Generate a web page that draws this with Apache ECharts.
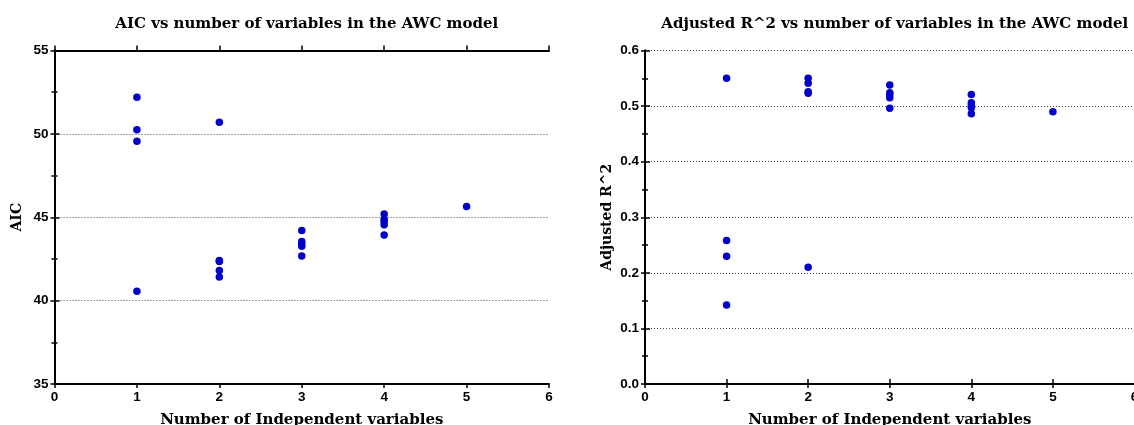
<!DOCTYPE html>
<html>
<head>
<meta charset="utf-8">
<script src="https://cdn.jsdelivr.net/npm/echarts@6/dist/echarts.min.js"></script>
<style>
  html, body { margin: 0; padding: 0; background: #fff; overflow: hidden; }
  #chart { width: 1134px; height: 425px; }
</style>
</head>
<body>
<div id="chart"></div>
<script>
// Number of independent variables in each candidate model
const varCounts = [1, 2, 3, 4, 5];

// AIC of each candidate model, grouped by number of variables
const aicValues = [
  [52.2, 50.24, 49.56, 40.56],
  [50.7, 42.4, 42.35, 41.8, 41.42],
  [44.2, 43.54, 43.4, 43.26, 42.68],
  [45.2, 44.9, 44.75, 44.55, 43.94],
  [45.64]
];

// Adjusted R^2 of each candidate model, grouped the same way
const r2Values = [
  [0.55, 0.258, 0.23, 0.142],
  [0.55, 0.541, 0.526, 0.523, 0.21],
  [0.538, 0.524, 0.521, 0.515, 0.496],
  [0.521, 0.506, 0.501, 0.497, 0.486],
  [0.49]
];

const aicTicks = { min: 35, max: 55, interval: 5 };
const r2Ticks = { min: 0, max: 0.6, interval: 0.1 };
const xTicks = { min: 0, max: 6, interval: 1 };

const titles = [
  'AIC vs number of variables in the AWC model',
  'Adjusted R^2 vs number of variables in the AWC model'
];
const xName = 'Number of Independent variables';
const yNames = ['AIC', 'Adjusted R^2'];

function pairs(groups) {
  const out = [];
  groups.forEach((vals, i) => vals.forEach(v => out.push([varCounts[i], v])));
  return out;
}

const SERIF = '"DejaVu Serif", "Liberation Serif", serif';
const SANS = '"Liberation Sans", Arial, sans-serif';
const lineStyle = { color: '#000', width: 2 };
const tickLabel = { color: '#000', fontFamily: SANS, fontWeight: 'bold', fontSize: 13.5 };

// fixed plot rectangles; the right panel reaches the canvas edge
const grids = [
  { left: 54.5, top: 50.5, width: 494.5, height: 333.5, outerBoundsMode: 'none', containLabel: false },
  { left: 645, top: 50.5, width: 489.5, height: 333.5, outerBoundsMode: 'none', containLabel: false }
];

const xAxes = [];
const yAxes = [];
[0, 1].forEach(g => {
  // bottom axis with labels
  xAxes.push({
    type: 'value', gridIndex: g, min: xTicks.min, max: xTicks.max, interval: xTicks.interval,
    position: 'bottom',
    axisLine: { show: true, lineStyle },
    axisTick: { show: true, length: 4, lineStyle: { color: '#000', width: 1.5 } },
    axisLabel: Object.assign({ margin: 6 }, tickLabel),
    splitLine: { show: false },
    name: xName, nameLocation: 'middle', nameGap: 29,
    nameTextStyle: { fontFamily: SERIF, fontWeight: 'bold', fontSize: 15, color: '#000' }
  });
  // top frame line with outward ticks
  xAxes.push({
    type: 'value', gridIndex: g, min: xTicks.min, max: xTicks.max, interval: xTicks.interval,
    position: 'top',
    axisLine: { show: true, lineStyle },
    axisTick: { show: true, length: 5, lineStyle: { color: '#000', width: 1.5 } },
    axisLabel: { show: false },
    splitLine: { show: false }
  });
  const t = g === 0 ? aicTicks : r2Ticks;
  const fmt = g === 0 ? (v => String(v)) : (v => v.toFixed(1));
  yAxes.push({
    type: 'value', gridIndex: g, min: t.min, max: t.max, interval: t.interval,
    position: 'left',
    axisLine: { show: true, lineStyle },
    axisTick: { show: true, length: 4, lineStyle: { color: '#000', width: 1.5 } },
    minorTick: { show: true, splitNumber: 2, length: 3, lineStyle: { color: '#000', width: 1.5 } },
    axisLabel: Object.assign({ margin: 6, formatter: fmt }, tickLabel),
    splitLine: { show: true, lineStyle: { color: '#444', width: 1, type: [1, 2] } },
    name: yNames[g], nameLocation: 'middle', nameGap: g === 0 ? 30 : 31,
    nameTextStyle: { fontFamily: SERIF, fontWeight: 'bold', fontSize: 14, color: '#000' }
  });
  yAxes.push({
    type: 'value', gridIndex: g, min: t.min, max: t.max, interval: t.interval,
    position: 'right',
    axisLine: { show: true, lineStyle },
    axisTick: { show: true, length: 5, lineStyle: { color: '#000', width: 1.5 } },
    minorTick: { show: true, splitNumber: 2, length: 3, lineStyle: { color: '#000', width: 1.5 } },
    axisLabel: { show: false },
    splitLine: { show: false }
  });
});

const option = {
  animation: false,
  backgroundColor: '#fff',
  title: titles.map((txt, i) => ({
    text: txt,
    left: grids[i].left + grids[i].width / 2,
    top: 12,
    textAlign: 'center',
    textStyle: { fontFamily: SERIF, fontWeight: 'bold', fontSize: 15, color: '#000' }
  })),
  grid: grids,
  xAxis: xAxes,
  yAxis: yAxes,
  series: [
    {
      type: 'scatter', xAxisIndex: 0, yAxisIndex: 0,
      data: pairs(aicValues), symbol: 'circle', symbolSize: 7.5,
      itemStyle: { color: '#0000c8', opacity: 1 }
    },
    {
      type: 'scatter', xAxisIndex: 2, yAxisIndex: 2,
      data: pairs(r2Values), symbol: 'circle', symbolSize: 7.5,
      itemStyle: { color: '#0000c8', opacity: 1 }
    }
  ]
};

echarts.init(document.getElementById('chart')).setOption(option);
</script>
</body>
</html>
